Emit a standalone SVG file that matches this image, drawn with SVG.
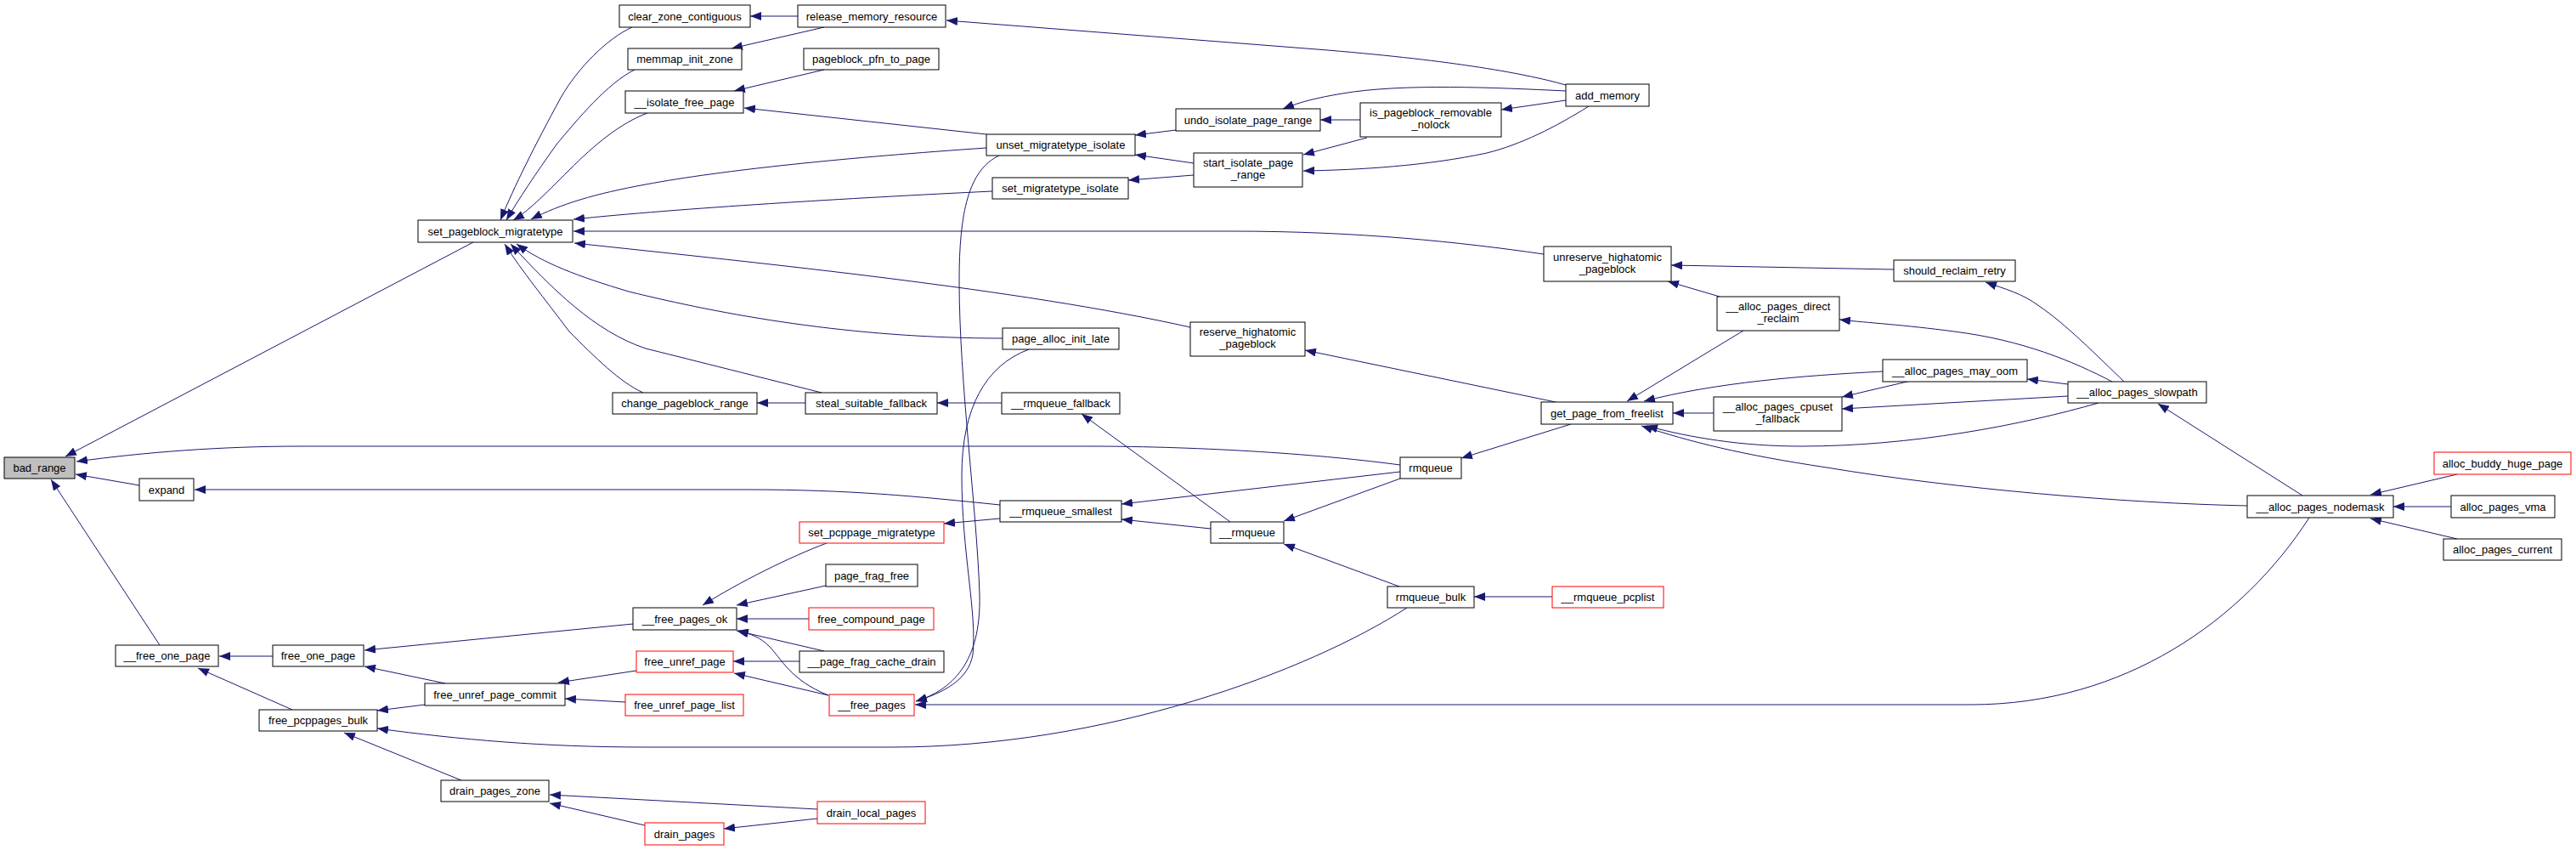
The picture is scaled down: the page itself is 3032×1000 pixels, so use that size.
<svg xmlns="http://www.w3.org/2000/svg" width="3032" height="1000" viewBox="0 0 3032 1000">
<style>
.node rect{fill:#fff;stroke:#000;stroke-width:1}
.node.red rect{stroke:#ff0000}
.node.root rect{fill:#bfbfbf}
.node text{font-family:"Liberation Sans",Arial,sans-serif;font-size:13px;text-anchor:middle;fill:#000}
.edges path{fill:none;stroke:#191970;stroke-width:1;marker-end:url(#arr)}
</style>
<defs>
<marker id="arr" markerUnits="userSpaceOnUse" markerWidth="13" markerHeight="10" refX="13" refY="5" orient="auto" viewBox="0 0 13 10"><path d="M0,0 L13,5 L0,10 z" fill="#191970"/></marker>
</defs>
<rect width="3032" height="1000" fill="#fff"/>
<g class="edges">
<path d="M557,285 L77,537"/>
<path d="M1648,547 C1560,535 1420,525 1280,525 L354,525 C260,525 170,532 90,543"/>
<path d="M164,571 L89,558"/>
<path d="M188,759 L60,564"/>
<path d="M1177,594 C1080,584 1000,576 880,576 L229,576"/>
<path d="M321,772 L258,772"/>
<path d="M344,835 L233,786"/>
<path d="M745,734 L429,765"/>
<path d="M524,804 L429,784"/>
<path d="M500,829 L444,836"/>
<path d="M1656,715 C1540,790 1300,879 1050,879 L760,879 C640,879 540,870 444,857"/>
<path d="M543,918 L405,862"/>
<path d="M962,952 L647,935"/>
<path d="M759,971 L647,945"/>
<path d="M962,963 L852,975"/>
<path d="M749,789 L657,803"/>
<path d="M736,826 L665,822"/>
<path d="M973,639 C930,655 870,685 827,712"/>
<path d="M972,689 L867,712"/>
<path d="M952,728 L867,728"/>
<path d="M970,766 L867,742"/>
<path d="M975,818 C930,800 920,775 905,760 C895,750 885,746 868,742"/>
<path d="M941,778 L863,778"/>
<path d="M975,818 L864,792"/>
<path d="M1177,610 L1111,616"/>
<path d="M1176,183 C1140,200 1129,250 1129,330 C1129,450 1150,600 1153,700 C1155,780 1120,812 1078,825"/>
<path d="M1211,411 C1160,430 1132,480 1132,560 C1132,650 1150,720 1145,770 C1140,800 1110,815 1078,825"/>
<path d="M2718,609 C2640,730 2500,829 2320,829 L1077,829"/>
<path d="M744,32 C715,45 680,80 660,115 C630,170 605,220 589,259"/>
<path d="M747,82 C715,98 680,140 655,170 C630,205 610,235 596,259"/>
<path d="M762,133 C730,145 700,170 670,200 C640,230 620,250 604,259"/>
<path d="M1161,174 C1000,185 850,200 760,217 C700,228 660,240 625,258"/>
<path d="M1168,225 C1000,233 800,245 675,258"/>
<path d="M1817,299 C1720,285 1600,272 1450,272 L675,272"/>
<path d="M1401,385 C1200,340 900,310 676,286"/>
<path d="M1180,398 C1000,398 850,370 740,343 C680,325 640,310 608,287"/>
<path d="M967,462 C880,440 800,420 760,410 C700,390 650,340 601,287"/>
<path d="M757,462 C730,450 700,420 670,390 C640,350 615,320 594,287"/>
<path d="M939,19 L883,19"/>
<path d="M970,32 L861,57"/>
<path d="M970,82 L864,107"/>
<path d="M1161,158 L876,127"/>
<path d="M1843,100 C1790,85 1700,70 1550,58 L1114,24"/>
<path d="M1843,107 C1760,103 1650,98 1580,110 C1550,115 1530,120 1510,128"/>
<path d="M1843,118 L1767,129"/>
<path d="M1870,125 C1830,150 1790,170 1750,180 C1680,195 1600,200 1534,201"/>
<path d="M1601,141 L1554,141"/>
<path d="M1609,162 L1534,182"/>
<path d="M1384,153 L1336,159"/>
<path d="M1405,192 L1336,182"/>
<path d="M1405,206 L1328,212"/>
<path d="M948,474 L891,474"/>
<path d="M1179,474 L1103,474"/>
<path d="M1448,614 L1273,487"/>
<path d="M1425,622 L1320,611"/>
<path d="M1648,555 L1320,593"/>
<path d="M1648,563 L1511,613"/>
<path d="M1647,690 L1511,640"/>
<path d="M1827,702 L1735,702"/>
<path d="M1849,499 L1720,539"/>
<path d="M1831,473 L1536,412"/>
<path d="M2024,349 L1963,331"/>
<path d="M2229,317 L1967,312"/>
<path d="M2052,389 L1915,472"/>
<path d="M2216,437 C2120,442 2020,450 1935,472"/>
<path d="M2017,486 L1969,486"/>
<path d="M2470,474 C2380,500 2250,525 2120,525 C2050,525 1990,515 1938,501"/>
<path d="M2645,595 C2500,592 2300,575 2150,550 C2050,535 1990,520 1932,501"/>
<path d="M2249,448 L2168,467"/>
<path d="M2434,466 L2168,481"/>
<path d="M2434,452 L2386,446"/>
<path d="M2500,449 C2470,420 2430,380 2400,360 C2380,345 2360,340 2337,332"/>
<path d="M2486,449 C2440,425 2380,400 2300,390 C2240,382 2200,380 2165,376"/>
<path d="M2710,583 L2540,475"/>
<path d="M2892,558 L2790,582"/>
<path d="M2885,596 L2817,596"/>
<path d="M2892,634 L2790,610"/>
</g>
<g id="node_bad_range" class="node root"><rect x="5" y="538" width="83" height="25"/><text x="46.5" y="555">bad_range</text></g>
<g id="node_expand" class="node"><rect x="164" y="563" width="64" height="26"/><text x="196" y="580.5">expand</text></g>
<g id="node_set_pageblock_migratetype" class="node"><rect x="492" y="259" width="182" height="26"/><text x="583" y="276.5">set_pageblock_migratetype</text></g>
<g id="node___free_one_page" class="node"><rect x="136" y="759" width="121" height="25"/><text x="196.5" y="776">__free_one_page</text></g>
<g id="node_free_one_page" class="node"><rect x="321" y="759" width="107" height="25"/><text x="374.5" y="776">free_one_page</text></g>
<g id="node_free_pcppages_bulk" class="node"><rect x="305" y="835" width="139" height="25"/><text x="374.5" y="852">free_pcppages_bulk</text></g>
<g id="node_free_unref_page_commit" class="node"><rect x="500" y="804" width="165" height="26"/><text x="582.5" y="821.5">free_unref_page_commit</text></g>
<g id="node_drain_pages_zone" class="node"><rect x="519" y="918" width="127" height="25"/><text x="582.5" y="935">drain_pages_zone</text></g>
<g id="node_clear_zone_contiguous" class="node"><rect x="729" y="6" width="154" height="26"/><text x="806" y="23.5">clear_zone_contiguous</text></g>
<g id="node_memmap_init_zone" class="node"><rect x="739" y="57" width="134" height="25"/><text x="806" y="74">memmap_init_zone</text></g>
<g id="node___isolate_free_page" class="node"><rect x="736" y="107" width="139" height="26"/><text x="805.5" y="124.5">__isolate_free_page</text></g>
<g id="node_change_pageblock_range" class="node"><rect x="721" y="462" width="170" height="25"/><text x="806" y="479">change_pageblock_range</text></g>
<g id="node___free_pages_ok" class="node"><rect x="745" y="715" width="122" height="26"/><text x="806" y="732.5">__free_pages_ok</text></g>
<g id="node_free_unref_page" class="node red"><rect x="749" y="766" width="114" height="25"/><text x="806" y="783">free_unref_page</text></g>
<g id="node_free_unref_page_list" class="node red"><rect x="736" y="817" width="139" height="25"/><text x="805.5" y="834">free_unref_page_list</text></g>
<g id="node_drain_pages" class="node red"><rect x="759" y="968" width="93" height="26"/><text x="805.5" y="985.5">drain_pages</text></g>
<g id="node_release_memory_resource" class="node"><rect x="939" y="6" width="174" height="26"/><text x="1026" y="23.5">release_memory_resource</text></g>
<g id="node_pageblock_pfn_to_page" class="node"><rect x="946" y="57" width="159" height="25"/><text x="1025.5" y="74">pageblock_pfn_to_page</text></g>
<g id="node_steal_suitable_fallback" class="node"><rect x="948" y="462" width="155" height="25"/><text x="1025.5" y="479">steal_suitable_fallback</text></g>
<g id="node_set_pcppage_migratetype" class="node red"><rect x="941" y="614" width="170" height="25"/><text x="1026" y="631">set_pcppage_migratetype</text></g>
<g id="node_page_frag_free" class="node"><rect x="972" y="664" width="108" height="26"/><text x="1026" y="681.5">page_frag_free</text></g>
<g id="node_free_compound_page" class="node red"><rect x="952" y="715" width="147" height="26"/><text x="1025.5" y="732.5">free_compound_page</text></g>
<g id="node___page_frag_cache_drain" class="node"><rect x="941" y="766" width="170" height="25"/><text x="1026" y="783">__page_frag_cache_drain</text></g>
<g id="node___free_pages" class="node red"><rect x="976" y="817" width="100" height="25"/><text x="1026" y="834">__free_pages</text></g>
<g id="node_drain_local_pages" class="node red"><rect x="962" y="943" width="127" height="26"/><text x="1025.5" y="960.5">drain_local_pages</text></g>
<g id="node_unset_migratetype_isolate" class="node"><rect x="1161" y="158" width="175" height="25"/><text x="1248.5" y="175">unset_migratetype_isolate</text></g>
<g id="node_set_migratetype_isolate" class="node"><rect x="1168" y="209" width="160" height="25"/><text x="1248" y="226">set_migratetype_isolate</text></g>
<g id="node_page_alloc_init_late" class="node"><rect x="1180" y="386" width="137" height="25"/><text x="1248.5" y="403">page_alloc_init_late</text></g>
<g id="node___rmqueue_fallback" class="node"><rect x="1179" y="462" width="139" height="25"/><text x="1248.5" y="479">__rmqueue_fallback</text></g>
<g id="node___rmqueue_smallest" class="node"><rect x="1177" y="589" width="143" height="25"/><text x="1248.5" y="606">__rmqueue_smallest</text></g>
<g id="node_undo_isolate_page_range" class="node"><rect x="1384" y="128" width="170" height="26"/><text x="1469" y="145.5">undo_isolate_page_range</text></g>
<g id="node_start_isolate_page_range" class="node"><rect x="1405" y="180" width="128" height="40"/><text x="1469" y="196">start_isolate_page</text><text x="1469" y="210">_range</text></g>
<g id="node_reserve_highatomic_pageblock" class="node"><rect x="1401" y="379" width="135" height="40"/><text x="1468.5" y="395">reserve_highatomic</text><text x="1468.5" y="409">_pageblock</text></g>
<g id="node___rmqueue" class="node"><rect x="1425" y="614" width="86" height="25"/><text x="1468" y="631">__rmqueue</text></g>
<g id="node_is_pageblock_removable_nolock" class="node"><rect x="1601" y="121" width="166" height="40"/><text x="1684" y="137">is_pageblock_removable</text><text x="1684" y="151">_nolock</text></g>
<g id="node_rmqueue" class="node"><rect x="1648" y="538" width="72" height="25"/><text x="1684" y="555">rmqueue</text></g>
<g id="node_rmqueue_bulk" class="node"><rect x="1633" y="690" width="102" height="25"/><text x="1684" y="707">rmqueue_bulk</text></g>
<g id="node_add_memory" class="node"><rect x="1843" y="99" width="98" height="26"/><text x="1892" y="116.5">add_memory</text></g>
<g id="node_unreserve_highatomic_pageblock" class="node"><rect x="1817" y="290" width="150" height="41"/><text x="1892" y="306.5">unreserve_highatomic</text><text x="1892" y="320.5">_pageblock</text></g>
<g id="node_get_page_from_freelist" class="node"><rect x="1814" y="473" width="155" height="26"/><text x="1891.5" y="490.5">get_page_from_freelist</text></g>
<g id="node___rmqueue_pcplist" class="node red"><rect x="1827" y="690" width="131" height="25"/><text x="1892.5" y="707">__rmqueue_pcplist</text></g>
<g id="node___alloc_pages_direct_reclaim" class="node"><rect x="2021" y="349" width="144" height="40"/><text x="2093" y="365">__alloc_pages_direct</text><text x="2093" y="379">_reclaim</text></g>
<g id="node___alloc_pages_cpuset_fallback" class="node"><rect x="2017" y="467" width="151" height="40"/><text x="2092.5" y="483">__alloc_pages_cpuset</text><text x="2092.5" y="497">_fallback</text></g>
<g id="node_should_reclaim_retry" class="node"><rect x="2229" y="306" width="143" height="25"/><text x="2300.5" y="323">should_reclaim_retry</text></g>
<g id="node___alloc_pages_may_oom" class="node"><rect x="2216" y="423" width="170" height="26"/><text x="2301" y="440.5">__alloc_pages_may_oom</text></g>
<g id="node___alloc_pages_slowpath" class="node"><rect x="2434" y="449" width="163" height="25"/><text x="2515.5" y="466">__alloc_pages_slowpath</text></g>
<g id="node___alloc_pages_nodemask" class="node"><rect x="2645" y="583" width="172" height="26"/><text x="2731" y="600.5">__alloc_pages_nodemask</text></g>
<g id="node_alloc_buddy_huge_page" class="node red"><rect x="2865" y="532" width="161" height="26"/><text x="2945.5" y="549.5">alloc_buddy_huge_page</text></g>
<g id="node_alloc_pages_vma" class="node"><rect x="2885" y="583" width="122" height="26"/><text x="2946" y="600.5">alloc_pages_vma</text></g>
<g id="node_alloc_pages_current" class="node"><rect x="2876" y="634" width="139" height="25"/><text x="2945.5" y="651">alloc_pages_current</text></g>
</svg>
